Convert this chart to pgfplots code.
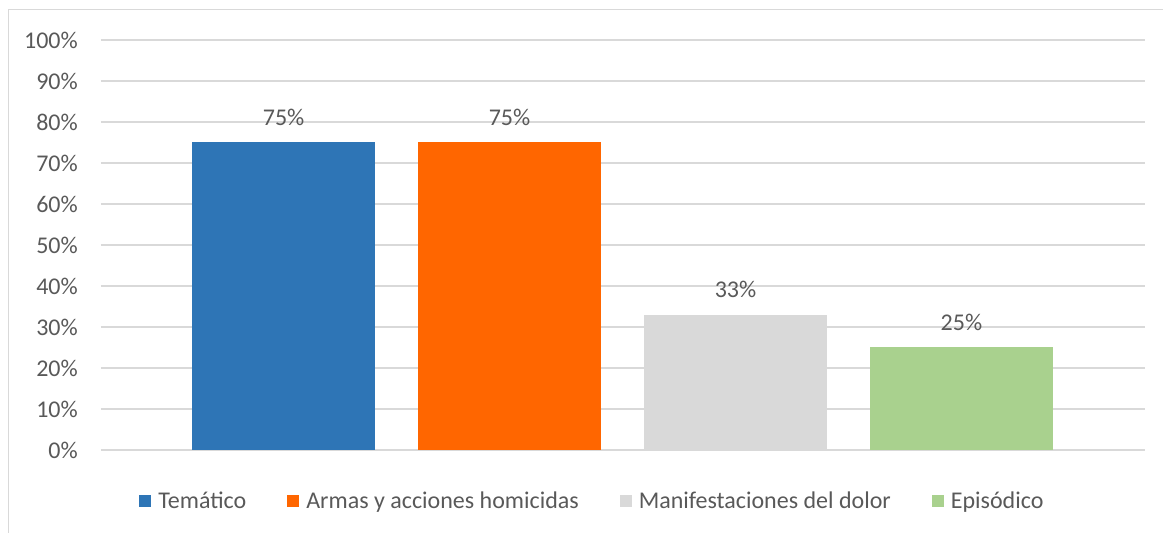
\documentclass[border=0pt]{standalone}
\usepackage{pgfplots}
\pgfplotsset{compat=1.18}
\usepackage{fontspec}
\setmainfont{Carlito}

\definecolor{txt}{HTML}{595959}
\definecolor{gridc}{HTML}{D9D9D9}
\definecolor{cblue}{HTML}{2E75B6}
\definecolor{corange}{HTML}{FF6600}
\definecolor{cgray}{HTML}{D9D9D9}
\definecolor{cgreen}{HTML}{A9D18E}

\begin{document}
\begin{tikzpicture}
\path[use as bounding box] (0,0) rectangle (1163pt,533pt);
\draw[gridc, line width=1pt] (8pt,0pt) -- (8pt,523pt) -- (1163pt,523pt);

\begin{axis}[%
at={(101pt,83pt)},
anchor=south west,
width=1044pt,
height=410pt,
scale only axis,
font=\fontsize{24}{28}\selectfont,
/pgf/number format/assume math mode=true,
xmin=-0.808,
xmax=3.812,
ymin=0,
ymax=100,
xtick=\empty,
ytick={0,10,...,100},
yticklabels={0\%,10\%,20\%,30\%,40\%,50\%,60\%,70\%,80\%,90\%,100\%},
yticklabel style={inner sep=0pt, xshift=-23pt, text=txt},
major tick length=0pt,
ymajorgrids,
major grid style={color=gridc, line width=1.3pt},
axis line style={draw=none},
ybar,
bar width=183pt,
bar shift=0pt,
nodes near coords={\pgfmathprintnumber{\pgfplotspointmeta}\%},
nodes near coords style={anchor=base, inner sep=0pt, yshift=17pt, text=txt},
legend columns=4,
legend image code/.code={\fill[#1] (0pt,-6pt) rectangle (12pt,6pt);},
legend style={at={(0.4698,-0.1244)}, anchor=center, draw=none, fill=none,
  text=txt, column sep=7pt, nodes={inner sep=0pt},
  /tikz/every even column/.append style={column sep=41pt}},
]

\addplot[draw=none, fill=cblue] coordinates {(0,75)};
\addlegendentry{Temático}
\addplot[draw=none, fill=corange] coordinates {(1,75)};
\addlegendentry{Armas y acciones homicidas}
\addplot[draw=none, fill=cgray] coordinates {(2,33)};
\addlegendentry{Manifestaciones del dolor}
\addplot[draw=none, fill=cgreen] coordinates {(3,25)};
\addlegendentry{Episódico}

\end{axis}
\end{tikzpicture}
\end{document}
